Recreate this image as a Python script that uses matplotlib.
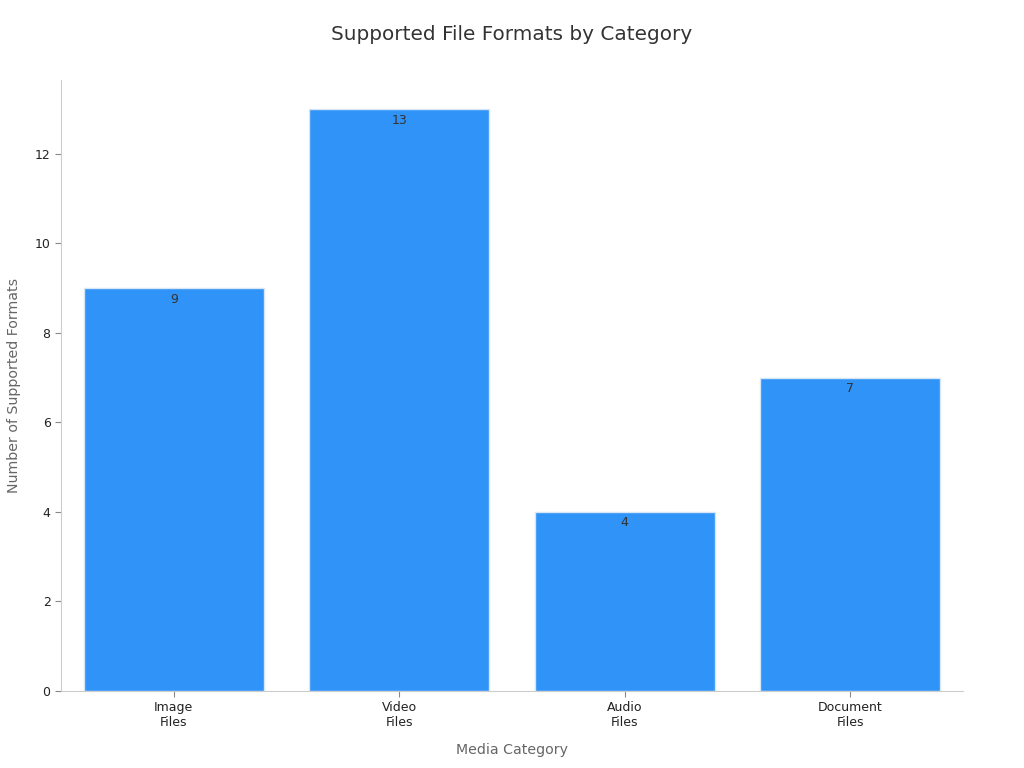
import matplotlib
matplotlib.use("Agg")
import matplotlib.pyplot as plt
import numpy as np

categories = ["Image\nFiles", "Video\nFiles", "Audio\nFiles", "Document\nFiles"]
counts = [9, 13, 4, 7]

fig = plt.figure(figsize=(10.24, 7.68), dpi=100)
ax = fig.add_axes([0.0596, 0.1003, 0.8808, 0.7955])

x = np.arange(len(categories))
bars = ax.bar(x, counts, width=0.8, color="#2f93f8", edgecolor="#d6e6f7", linewidth=1)

for b, v in zip(bars, counts):
    ax.text(b.get_x() + b.get_width() / 2, v - 0.1, str(v), ha="center", va="top",
            fontsize=9, color="#333333")

ax.set_xlim(-0.5, 3.5)
ax.set_ylim(0, 13.65)
ax.set_xticks(x)
ax.set_xticklabels(categories, fontsize=9, color="#222222")
ax.set_yticks([0, 2, 4, 6, 8, 10, 12])
ax.tick_params(axis="y", labelsize=9, labelcolor="#222222", color="#888888", length=4)
ax.tick_params(axis="x", color="#888888", length=4)

for side in ["top", "right"]:
    ax.spines[side].set_visible(False)
for side in ["left", "bottom"]:
    ax.spines[side].set_color("#cccccc")

ax.set_xlabel("Media Category", fontsize=10.2, color="#666666", labelpad=10)
ax.set_ylabel("Number of Supported Formats", fontsize=10.2, color="#666666", labelpad=10)
fig.suptitle("Supported File Formats by Category", fontsize=14.4, color="#333333", y=0.968)

fig.savefig("out.png", dpi=100)
